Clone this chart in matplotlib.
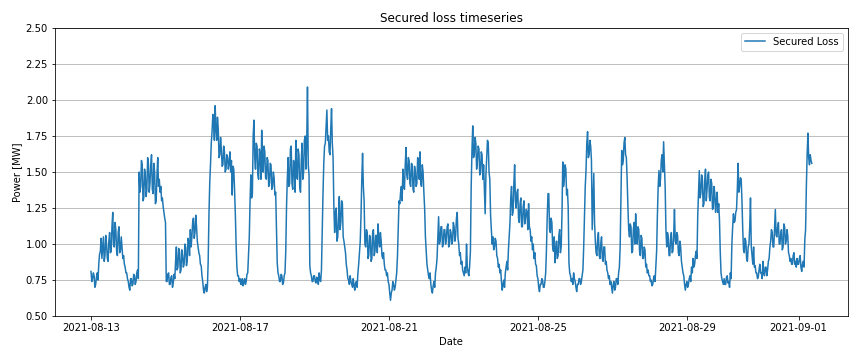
import numpy as np
import pandas as pd
import matplotlib
matplotlib.use("Agg")
import matplotlib.pyplot as plt


# ─── Data (half-hourly) ───────────────────────────────────────────────────────
START = "2021-08-13 00:00"

day_13 = [0.81, 0.74, 0.76, 0.80, 0.78, 0.70, 0.72, 0.77, 0.80, 0.75, 0.86, 0.93,
          0.95, 1.04, 0.90, 0.98, 1.05, 0.88, 0.92, 1.06, 1.00, 0.90, 0.88, 1.02,
          1.08, 0.94, 0.95, 1.12, 1.22, 1.00, 0.98, 1.15, 1.10, 0.95, 0.92, 1.08,
          1.12, 0.94, 0.96, 1.05, 0.98, 0.90, 0.92, 0.86, 0.84, 0.80, 0.80, 0.76]
day_14 = [0.74, 0.70, 0.68, 0.76, 0.76, 0.71, 0.72, 0.79, 0.78, 0.72, 0.74, 0.80,
          0.82, 0.76, 1.50, 1.36, 1.40, 1.58, 1.55, 1.30, 1.32, 1.52, 1.48, 1.33,
          1.38, 1.60, 1.56, 1.36, 1.42, 1.55, 1.62, 1.38, 1.35, 1.56, 1.50, 1.28,
          1.30, 1.48, 1.60, 1.40, 1.45, 1.36, 1.40, 1.30, 1.32, 1.26, 1.22, 1.18]
day_15 = [1.15, 0.74, 0.74, 0.79, 0.80, 0.72, 0.72, 0.77, 0.78, 0.70, 0.73, 0.79,
          0.76, 0.88, 0.98, 0.82, 0.84, 0.97, 0.95, 0.80, 0.82, 0.96, 0.92, 0.84,
          0.86, 1.00, 0.98, 0.85, 0.88, 1.04, 1.02, 0.92, 1.10, 0.98, 1.05, 1.15,
          1.18, 1.04, 1.08, 1.20, 1.12, 1.02, 0.98, 0.94, 0.92, 0.86, 0.85, 0.78]
day_16 = [0.74, 0.68, 0.66, 0.70, 0.72, 0.67, 0.70, 0.88, 1.20, 1.42, 1.55, 1.70,
          1.78, 1.90, 1.85, 1.72, 1.96, 1.80, 1.72, 1.88, 1.80, 1.60, 1.62, 1.74,
          1.66, 1.54, 1.55, 1.68, 1.64, 1.50, 1.52, 1.62, 1.60, 1.52, 1.56, 1.64,
          1.50, 1.58, 1.34, 1.54, 1.52, 1.38, 1.21, 1.00, 0.84, 0.78, 0.78, 0.74]
day_17 = [0.76, 0.72, 0.72, 0.76, 0.71, 0.74, 0.76, 0.72, 0.74, 0.79, 0.80, 0.92,
          1.05, 1.30, 1.48, 1.32, 1.35, 1.75, 1.86, 1.60, 1.52, 1.70, 1.68, 1.48,
          1.45, 1.66, 1.62, 1.45, 1.79, 1.55, 1.50, 1.68, 1.64, 1.46, 1.45, 1.60,
          1.58, 1.40, 1.42, 1.56, 1.55, 1.38, 1.40, 1.50, 1.46, 1.34, 1.36, 1.10]
day_18 = [0.87, 0.80, 0.78, 0.74, 0.74, 0.79, 0.78, 0.72, 0.73, 0.78, 0.80, 0.95,
          1.26, 1.45, 1.60, 1.40, 1.42, 1.66, 1.68, 1.42, 1.38, 1.58, 1.55, 1.36,
          1.72, 1.48, 1.45, 1.66, 1.62, 1.40, 1.36, 1.58, 1.70, 1.45, 1.50, 1.72,
          1.75, 1.52, 1.70, 2.09, 1.55, 1.48, 0.85, 0.80, 0.78, 0.74, 0.74, 0.78]
day_19 = [0.78, 0.74, 0.73, 0.77, 0.76, 0.72, 0.80, 0.75, 0.74, 0.82, 1.10, 1.35,
          1.56, 1.68, 1.70, 1.82, 1.93, 1.72, 1.75, 1.64, 1.62, 1.80, 1.94, 1.70,
          1.60, 1.26, 1.08, 1.22, 1.25, 1.02, 1.05, 1.18, 1.33, 1.10, 1.15, 1.30,
          1.28, 1.05, 1.02, 0.98, 0.94, 0.86, 0.82, 0.76, 0.75, 0.72, 0.78, 0.74]
day_20 = [0.72, 0.70, 0.76, 0.71, 0.68, 0.73, 0.74, 0.70, 0.80, 0.86, 0.94, 1.02,
          1.20, 1.45, 1.63, 1.40, 1.30, 1.00, 0.98, 1.10, 1.08, 0.90, 0.92, 1.06,
          1.05, 0.88, 0.90, 1.08, 1.10, 0.92, 0.95, 1.06, 1.06, 0.94, 1.14, 1.02,
          0.98, 1.08, 1.02, 0.92, 0.90, 0.94, 0.86, 0.82, 0.82, 0.78, 0.80, 0.74]
day_21 = [0.72, 0.66, 0.61, 0.66, 0.68, 0.74, 0.72, 0.68, 0.70, 0.75, 0.80, 0.92,
          1.10, 1.30, 1.28, 1.36, 1.40, 1.30, 1.52, 1.42, 1.38, 1.55, 1.67, 1.48,
          1.45, 1.60, 1.58, 1.42, 1.40, 1.56, 1.55, 1.38, 1.36, 1.54, 1.50, 1.40,
          1.42, 1.60, 1.58, 1.45, 1.64, 1.42, 1.40, 1.55, 1.50, 1.36, 1.25, 1.05]
day_22 = [0.95, 0.86, 0.82, 0.78, 0.76, 0.80, 0.72, 0.68, 0.66, 0.71, 0.74, 0.70,
          0.80, 0.84, 0.90, 1.05, 1.19, 1.00, 1.02, 1.12, 1.12, 0.98, 1.00, 1.10,
          1.10, 1.00, 1.04, 1.12, 1.14, 0.98, 1.00, 1.10, 1.08, 1.00, 1.02, 1.15,
          1.12, 1.02, 1.06, 1.18, 1.22, 1.04, 1.00, 0.92, 0.94, 0.86, 0.88, 0.82]
day_23 = [0.80, 0.78, 0.84, 0.80, 1.00, 0.84, 0.80, 0.78, 0.85, 0.95, 1.40, 1.65,
          1.82, 1.60, 1.62, 1.74, 1.70, 1.52, 1.58, 1.68, 1.66, 1.48, 1.50, 1.64,
          1.62, 1.45, 1.55, 1.38, 1.21, 1.48, 1.60, 1.72, 1.70, 1.50, 1.45, 1.20,
          1.10, 1.00, 1.05, 0.96, 0.98, 1.04, 1.02, 0.92, 0.90, 0.84, 0.86, 0.80]
day_24 = [0.82, 0.74, 0.68, 0.72, 0.75, 0.70, 0.80, 0.84, 0.88, 0.82, 0.96, 1.05,
          1.15, 1.32, 1.40, 1.20, 1.22, 1.42, 1.55, 1.30, 1.25, 1.36, 1.38, 1.18,
          1.15, 1.28, 1.32, 1.12, 1.12, 1.26, 1.30, 1.14, 1.18, 1.24, 1.22, 1.10,
          1.28, 1.12, 1.10, 1.02, 1.05, 0.96, 1.00, 0.90, 0.94, 0.86, 0.85, 0.78]
day_25 = [0.76, 0.70, 0.67, 0.72, 0.72, 0.76, 0.75, 0.70, 0.70, 0.74, 0.80, 0.96,
          1.19, 1.35, 1.35, 1.10, 1.08, 1.18, 1.15, 0.98, 0.95, 1.05, 0.87, 0.96,
          1.02, 0.90, 0.92, 1.06, 1.10, 0.94, 0.98, 1.20, 1.57, 1.40, 1.45, 1.55,
          1.52, 1.34, 1.38, 1.26, 0.87, 0.80, 0.78, 0.74, 0.76, 0.72, 0.80, 0.76]
day_26 = [0.74, 0.70, 0.67, 0.72, 0.72, 0.76, 0.76, 0.72, 0.74, 0.78, 0.82, 0.98,
          1.20, 1.40, 1.51, 1.70, 1.78, 1.60, 1.62, 1.72, 1.68, 1.58, 1.10, 1.30,
          1.49, 1.15, 1.02, 0.94, 0.92, 1.04, 1.08, 0.92, 0.90, 1.00, 1.05, 0.90,
          0.88, 0.98, 0.98, 0.86, 0.88, 0.82, 0.80, 0.76, 0.78, 0.72, 0.74, 0.70]
day_27 = [0.66, 0.72, 0.74, 0.68, 0.70, 0.76, 0.76, 0.72, 0.80, 0.84, 0.98, 1.30,
          1.65, 1.55, 1.58, 1.70, 1.74, 1.62, 1.60, 1.45, 1.26, 1.10, 1.05, 1.14,
          1.12, 0.94, 0.95, 1.10, 1.15, 1.00, 1.21, 1.05, 1.00, 1.12, 1.10, 0.95,
          0.92, 1.06, 1.04, 0.90, 0.90, 0.98, 0.96, 0.84, 0.86, 0.80, 0.82, 0.78]
day_28 = [0.78, 0.74, 0.75, 0.71, 0.72, 0.76, 0.78, 0.74, 0.85, 0.95, 1.20, 1.40,
          1.51, 1.40, 1.45, 1.58, 1.62, 1.50, 1.71, 1.55, 1.40, 1.10, 0.98, 1.08,
          1.05, 0.92, 0.92, 1.04, 1.08, 0.94, 0.95, 1.06, 1.24, 1.02, 1.00, 1.08,
          1.06, 0.94, 0.92, 1.02, 0.98, 0.88, 0.84, 0.80, 0.78, 0.72, 0.68, 0.72]
day_29 = [0.74, 0.70, 0.72, 0.76, 0.78, 0.74, 0.84, 0.80, 0.90, 0.84, 0.86, 0.92,
          0.95, 0.90, 1.20, 1.35, 1.51, 1.32, 1.35, 1.48, 1.45, 1.26, 1.28, 1.44,
          1.52, 1.30, 1.38, 1.48, 1.50, 1.32, 1.30, 1.45, 1.42, 1.24, 1.25, 1.40,
          1.35, 1.22, 1.30, 1.36, 1.22, 1.28, 1.17, 0.95, 0.80, 0.76, 0.74, 0.72]
day_30 = [0.76, 0.72, 0.72, 0.77, 0.78, 0.73, 0.74, 0.70, 0.80, 0.76, 1.00, 1.12,
          1.21, 1.15, 1.16, 1.22, 1.24, 1.38, 1.56, 1.36, 1.40, 1.46, 1.45, 1.30,
          1.10, 0.96, 0.94, 1.04, 1.02, 0.90, 0.88, 0.98, 1.00, 1.12, 1.32, 0.98,
          0.92, 0.86, 0.98, 0.84, 0.85, 0.80, 0.80, 0.76, 0.77, 0.82, 0.86, 0.80]
day_31 = [0.80, 0.76, 0.88, 0.80, 0.78, 0.84, 0.84, 0.78, 0.82, 0.88, 0.90, 0.98,
          1.02, 1.10, 1.08, 0.98, 0.98, 1.12, 1.24, 1.06, 1.05, 1.12, 1.15, 1.00,
          1.00, 1.08, 1.10, 0.96, 0.98, 1.14, 1.12, 1.00, 1.02, 1.10, 1.06, 0.94,
          0.92, 0.88, 0.90, 0.86, 0.86, 0.92, 0.94, 0.86, 0.88, 0.84, 0.90, 0.86]
day_01 = [0.86, 0.90, 0.92, 0.84, 0.81, 0.86, 0.88, 0.84, 1.03, 1.10, 1.40, 1.62,
          1.77, 1.60, 1.55, 1.62, 1.58, 1.56]

secured_loss = (day_13 + day_14 + day_15 + day_16 + day_17 + day_18 + day_19
                + day_20 + day_21 + day_22 + day_23 + day_24 + day_25 + day_26
                + day_27 + day_28 + day_29 + day_30 + day_31 + day_01)
dates = pd.date_range(START, periods=len(secured_loss), freq="30min")


# ─── Plot ─────────────────────────────────────────────────────────────────────
DPI = 72
fig = plt.figure(figsize=(859 / DPI, 358 / DPI), dpi=DPI)
ax = fig.add_axes([0.064, 0.117, 0.923, 0.805])

ax.plot(dates, secured_loss, color="#1f77b4", linewidth=1.5, label="Secured Loss")

ax.set_ylim(0.5, 2.5)
ax.set_yticks(np.arange(0.5, 2.51, 0.25))
ax.grid(True, axis="y", color="#b0b0b0")
ax.set_title("Secured loss timeseries")
ax.set_xlabel("Date")
ax.set_ylabel("Power [MW]")
ax.legend(loc="upper right")

fig.savefig("out.png", dpi=DPI)
